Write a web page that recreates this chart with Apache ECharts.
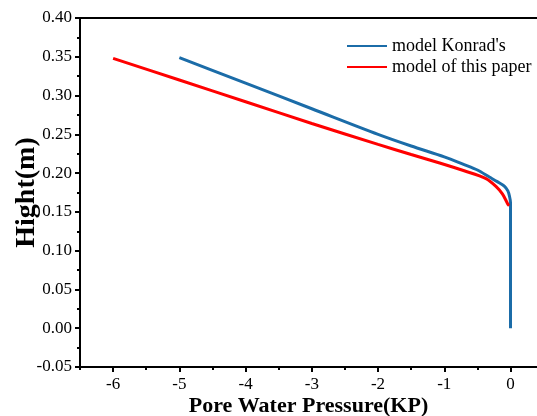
<!DOCTYPE html>
<html>
<head>
<meta charset="utf-8">
<script src="https://cdn.jsdelivr.net/npm/echarts@6/dist/echarts.min.js"></script>
<style>
  html, body { margin: 0; padding: 0; background: #fff; }
  #main { width: 537px; height: 416px; }
</style>
</head>
<body>
<div id="main"></div>
<script>
// pore water pressure (KP) vs height (m)
var konradX = [-5.0, -4.0, -3.0, -2.0, -1.5, -1.0, -0.7, -0.5, -0.32, -0.2, -0.09, -0.04, -0.015, 0, 0];
var konradY = [0.349, 0.316, 0.283, 0.250, 0.235, 0.221, 0.211, 0.204, 0.195, 0.189, 0.183, 0.177, 0.170, 0.162, 0.0];
var paperX = [-6.0, -5.0, -4.0, -3.0, -2.0, -1.5, -1.07, -0.7, -0.37, -0.22, -0.12, -0.04, -0.02];
var paperY = [0.348, 0.320, 0.292, 0.264, 0.237, 0.224, 0.213, 0.203, 0.193, 0.183, 0.173, 0.160, 0.158];
var xMajorTicks = [-6, -5, -4, -3, -2, -1, 0];
var xMinorTicks = [-6.5, -5.5, -4.5, -3.5, -2.5, -1.5, -0.5];

function pairs(xs, ys) {
  var out = [];
  for (var i = 0; i < xs.length; i++) out.push([xs[i], ys[i]]);
  return out;
}

var font = "Liberation Serif";
var myChart = echarts.init(document.getElementById("main"), null, { renderer: "canvas" });

var option = {
  animation: false,
  backgroundColor: "#fff",
  textStyle: { fontFamily: font },
  grid: { left: 80, right: 0, top: 18, bottom: 49, containLabel: false, outerBoundsMode: "none" },
  legend: {
    orient: "vertical",
    left: 342,
    top: 32,
    itemWidth: 40,
    itemHeight: 10,
    itemGap: 3,
    icon: "path://M0,4 L40,4 L40,6 L0,6 Z",
    textStyle: { fontFamily: font, fontSize: 18, color: "#000" },
    data: ["model Konrad's", "model of this paper"]
  },
  xAxis: [
    {
      type: "value",
      min: -6.5,
      max: 0.4,
      position: "bottom",
      splitLine: { show: false },
      axisLine: { show: true, onZero: false, lineStyle: { color: "#000", width: 2 } },
      axisTick: { show: true, customValues: xMajorTicks, length: 5, lineStyle: { color: "#000", width: 2 } },
      axisLabel: { customValues: xMajorTicks, margin: 9, fontFamily: font, fontSize: 17, color: "#000" },
      name: "Pore Water Pressure(KP)",
      nameLocation: "middle",
      nameGap: 28,
      nameMoveOverlap: false,
      nameTextStyle: { fontFamily: font, fontSize: 22, fontWeight: "bold", color: "#000" }
    },
    {
      type: "value",
      min: -6.5,
      max: 0.4,
      position: "bottom",
      splitLine: { show: false },
      axisLine: { show: false, onZero: false },
      axisTick: { show: true, customValues: xMinorTicks, length: 3, lineStyle: { color: "#000", width: 2 } },
      axisLabel: { show: false }
    },
    {
      type: "value",
      min: -6.5,
      max: 0.4,
      position: "top",
      splitLine: { show: false },
      axisLine: { show: true, onZero: false, lineStyle: { color: "#000", width: 2 } },
      axisTick: { show: false },
      axisLabel: { show: false }
    }
  ],
  yAxis: {
    type: "value",
    min: -0.05,
    max: 0.4,
    interval: 0.05,
    splitLine: { show: false },
    axisLine: { show: true, onZero: false, lineStyle: { color: "#000", width: 2 } },
    axisTick: { show: true, length: 5, lineStyle: { color: "#000", width: 2 } },
    minorTick: { show: true, splitNumber: 2, length: 3, lineStyle: { color: "#000", width: 2 } },
    axisLabel: {
      margin: 8,
      fontFamily: font,
      fontSize: 17,
      color: "#000",
      formatter: function (v) { return v.toFixed(2); }
    },
    name: "Hight(m)",
    nameLocation: "middle",
    nameGap: 39,
    nameMoveOverlap: false,
    nameTextStyle: { fontFamily: font, fontSize: 28, fontWeight: "bold", color: "#000" }
  },
  series: [
    {
      name: "model Konrad's",
      type: "line",
      xAxisIndex: 0,
      showSymbol: false,
      smooth: 0.3,
      color: "#1b6ca8",
      lineStyle: { width: 3, color: "#1b6ca8" },
      data: pairs(konradX, konradY)
    },
    {
      name: "model of this paper",
      type: "line",
      xAxisIndex: 0,
      showSymbol: false,
      smooth: 0.3,
      color: "#ff0000",
      lineStyle: { width: 3, color: "#ff0000" },
      data: pairs(paperX, paperY)
    }
  ]
};

myChart.setOption(option);
</script>
</body>
</html>
